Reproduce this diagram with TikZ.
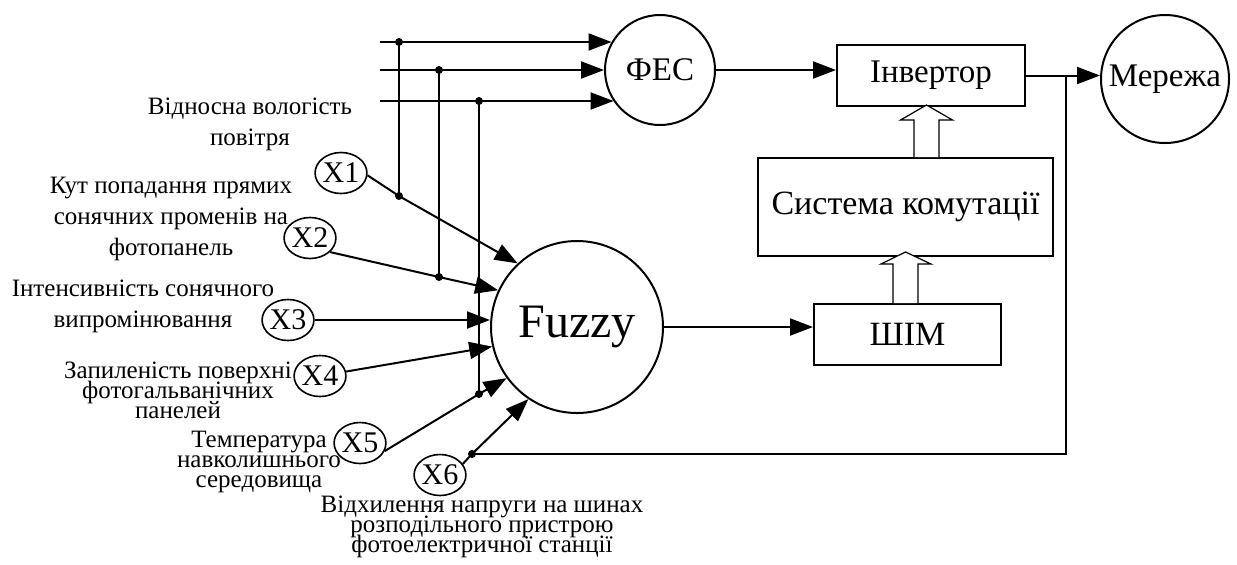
\documentclass[tikz,border=0pt]{standalone}
\usepackage{fontspec}
\setmainfont{Liberation Serif}
\usetikzlibrary{shapes.geometric, arrows.meta, calc}

\begin{document}
\begin{tikzpicture}[
    x=0.5pt, y=-0.5pt,
    unit/.style={circle, draw, line width=1pt, inner sep=0pt,
                 font=\fontsize{16.5}{19}\selectfont},
    block/.style={rectangle, draw, line width=1pt, inner sep=0pt,
                  font=\fontsize{16.5}{19}\selectfont},
    factor/.style={ellipse, draw, line width=0.8pt, inner sep=0pt,
                   minimum width=24pt, minimum height=20.5pt,
                   font=\fontsize{15}{17}\selectfont},
    desc/.style={align=center, inner sep=0pt,
                 font=\fontsize{12.5}{15.5}\selectfont},
    junction/.style={circle, fill, inner sep=0pt, minimum size=4pt},
    wire/.style={line width=1pt},
    arrow/.style={line width=1pt, -{Triangle[length=11.5pt, width=8.5pt]}},
    hollow/.style={draw, line width=0.6pt, fill=white}
]
    \useasboundingbox (0,0) rectangle (1237,564);

    % main units
    \node[unit, minimum size=55pt]                 (fes)  at (660,70)    {ФЕС};
    \node[unit, minimum size=86pt,
          font=\fontsize{24}{28}\selectfont]       (fz)   at (577,327)   {Fuzzy};
    \node[unit, minimum size=64pt]                 (mer)  at (1165,79)   {Мережа};
    \node[block, minimum width=94pt,
          minimum height=30.5pt]                   (inv)  at (931,75.5)  {Інвертор};
    \node[block, minimum width=147.5pt, minimum height=49pt,
          font=\fontsize{17}{20}\selectfont]       (kom)  at (905.5,207) {Система комутації};
    \node[block, minimum width=93.5pt, minimum height=30.5pt,
          font=\fontsize{17}{20}\selectfont]       (shim) at (907.5,334.5) {ШІМ};

    % input factors
    \node[factor] (x1) at (341,173) {X1};
    \node[factor] (x2) at (310,238) {X2};
    \node[factor] (x3) at (288,320) {X3};
    \node[factor] (x4) at (320,376) {X4};
    \node[factor] (x5) at (360,443) {X5};
    \node[factor] (x6) at (440,475) {X6};

    \node[desc] (d1) at (250,124) {Відносна вологість\\повітря};
    \node[desc] (d2) at (171,219) {Кут попадання прямих\\сонячних променів на\\фотопанель};
    \node[desc] (d3) at (143,306) {Інтенсивність сонячного\\випромінювання};
    \node[desc] (d4) at (178,390) {Запиленість поверхні\\[-5.5pt]фотогальванічних\\[-5.5pt]панелей};
    \node[desc] (d5) at (259,462) {Температура\\[-5.5pt]навколишнього\\[-5.5pt]середовища};
    \node[desc] (d6) at (482,527) {Відхилення напруги на шинах\\[-5.5pt]розподільного пристрою\\[-5.5pt]фотоелектричної станції};

    % branch points
    \coordinate (in1) at (380,42);
    \coordinate (in2) at (380,70);
    \coordinate (in3) at (380,101);
    \coordinate (t1) at (399,42);
    \coordinate (t2) at (439,70);
    \coordinate (t3) at (479,101);
    \coordinate (j1) at (399,196);
    \coordinate (j2) at (439,277);
    \coordinate (j3) at (479,394);
    \coordinate (j6) at (472,454);
    \coordinate (tap)  at ($(inv.east)+(40,0)$);
    \coordinate (tapb) at (tap |- j6);

    % inputs of the PV station
    \draw[arrow] (in1) -- (in1 -| fes.150);
    \draw[arrow] (in2) -- (fes);
    \draw[arrow] (in3) -- (in3 -| fes.214);
    \draw[wire] (t1) -- (j1);
    \draw[wire] (t2) -- (j2);
    \draw[wire] (t3) -- (j3);

    % inputs of the fuzzy controller
    \draw[arrow] (x1.-5)  -- (j1) -- (fz.133);
    \draw[arrow] (x2.-35) -- (j2) -- (fz.155);
    \draw[arrow] (x3)     -- (x3 -| fz.west);
    \draw[arrow] (x4)     -- (fz.193);
    \draw[arrow] (x5.-18) -- (j3) -- (fz.216);
    \draw[arrow] (x6.26)  -- (j6) -- (fz.236);

    \draw[arrow] (fes) -- (fes -| inv.west);
    \draw[arrow] (fz)  -- (fz -| shim.west);
    \draw[arrow] (inv.east) -- (inv.east -| mer.west);
    \draw[wire]  (j6) -- (tapb) -- (tap);

    % control signals
    \draw[hollow] ($(shim.north)+(-14.5,0)$) -- ++(0,-39) -- ++(-12,0) -- ++(24.5,-12)
                  -- ++(25.5,12) -- ++(-13,0) -- ++(0,39);
    \draw[hollow] ($(kom.north)+(8.5,0)$) -- ++(0,-37) -- ++(-13.5,0) -- ++(26,-15)
                  -- ++(26,15) -- ++(-13.5,0) -- ++(0,37);

    \node[junction] at (t1) {};
    \node[junction] at (t2) {};
    \node[junction] at (t3) {};
    \node[junction] at (j1) {};
    \node[junction] at (j2) {};
    \node[junction] at (j3) {};
    \node[junction] at (j6) {};
\end{tikzpicture}
\end{document}
